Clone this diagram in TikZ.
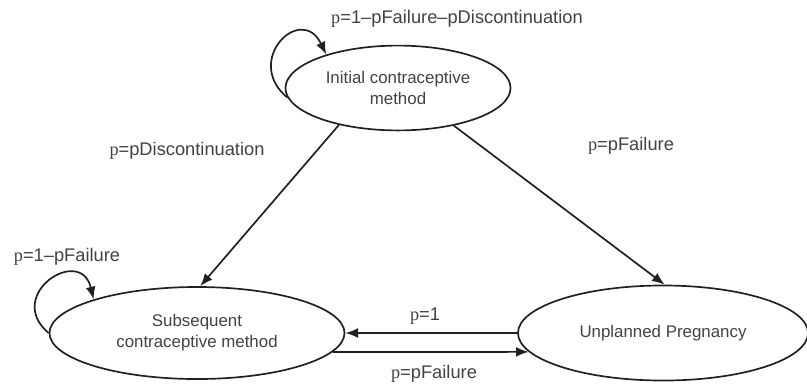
\documentclass[tikz,border=0pt]{standalone}
\usepackage{fontspec}
\setmainfont{Liberation Sans}
\newfontfamily\pfont{Liberation Serif}
\usetikzlibrary{shapes.geometric,arrows.meta}
\definecolor{inkgray}{RGB}{35,31,32}
\newcommand{\pp}{{\pfont p}}

\begin{document}
\begin{tikzpicture}[x=0.025cm, y=-0.025cm,
    state/.style={ellipse, draw=inkgray, line width=1.2pt, inner sep=0pt,
        align=center, text=inkgray!85, font=\fontsize{12}{15}\selectfont},
    trans/.style={draw=inkgray, line width=1.2pt, -{Latex[length=9pt,width=7pt]}},
    prob/.style={text=inkgray!85, inner sep=0pt, font=\fontsize{13}{15}\selectfont}]
            \useasboundingbox (0,0) rectangle (807,391);
            % states
            \node[state, minimum width=5.625cm, minimum height=2.12cm] (init) at (398,88) {Initial contraceptive\\method};
            \node[state, minimum width=7.375cm, minimum height=2.3cm] (sub) at (197,333) {Subsequent\\contraceptive method};
            \node[state, minimum width=7.25cm, minimum height=2.375cm] (preg) at (663,333) {Unplanned Pregnancy};
            % transitions
            \draw[trans] (init.212) -- (sub.86);
            \draw[trans] (init.326) -- (preg.88);
            \draw[trans] (preg.west) -- (sub.east);
            \draw[trans] (sub.-8.07) -- (preg.188.13);
            % self loops
            \draw[trans] (init.185) .. controls +(-45,-37) and +(-25,-52) .. (init.155);
            \draw[trans] (sub.180) .. controls +(-45,-38) and +(-13,-55) .. (sub.162.6);
            % probabilities
            \node[prob] (pinit) at (457,19) {\pp=1–pFailure–pDiscontinuation};
            \node[prob] (pdisc) at (187,151) {\pp=pDiscontinuation};
            \node[prob] (pfail) at (631,146) {\pp=pFailure};
            \node[prob] (psub) at (67,257) {\pp=1–pFailure};
            \node[prob] (pone) at (425,316) {\pp=1};
            \node[prob] (pback) at (434,374) {\pp=pFailure};
\end{tikzpicture}
\end{document}
